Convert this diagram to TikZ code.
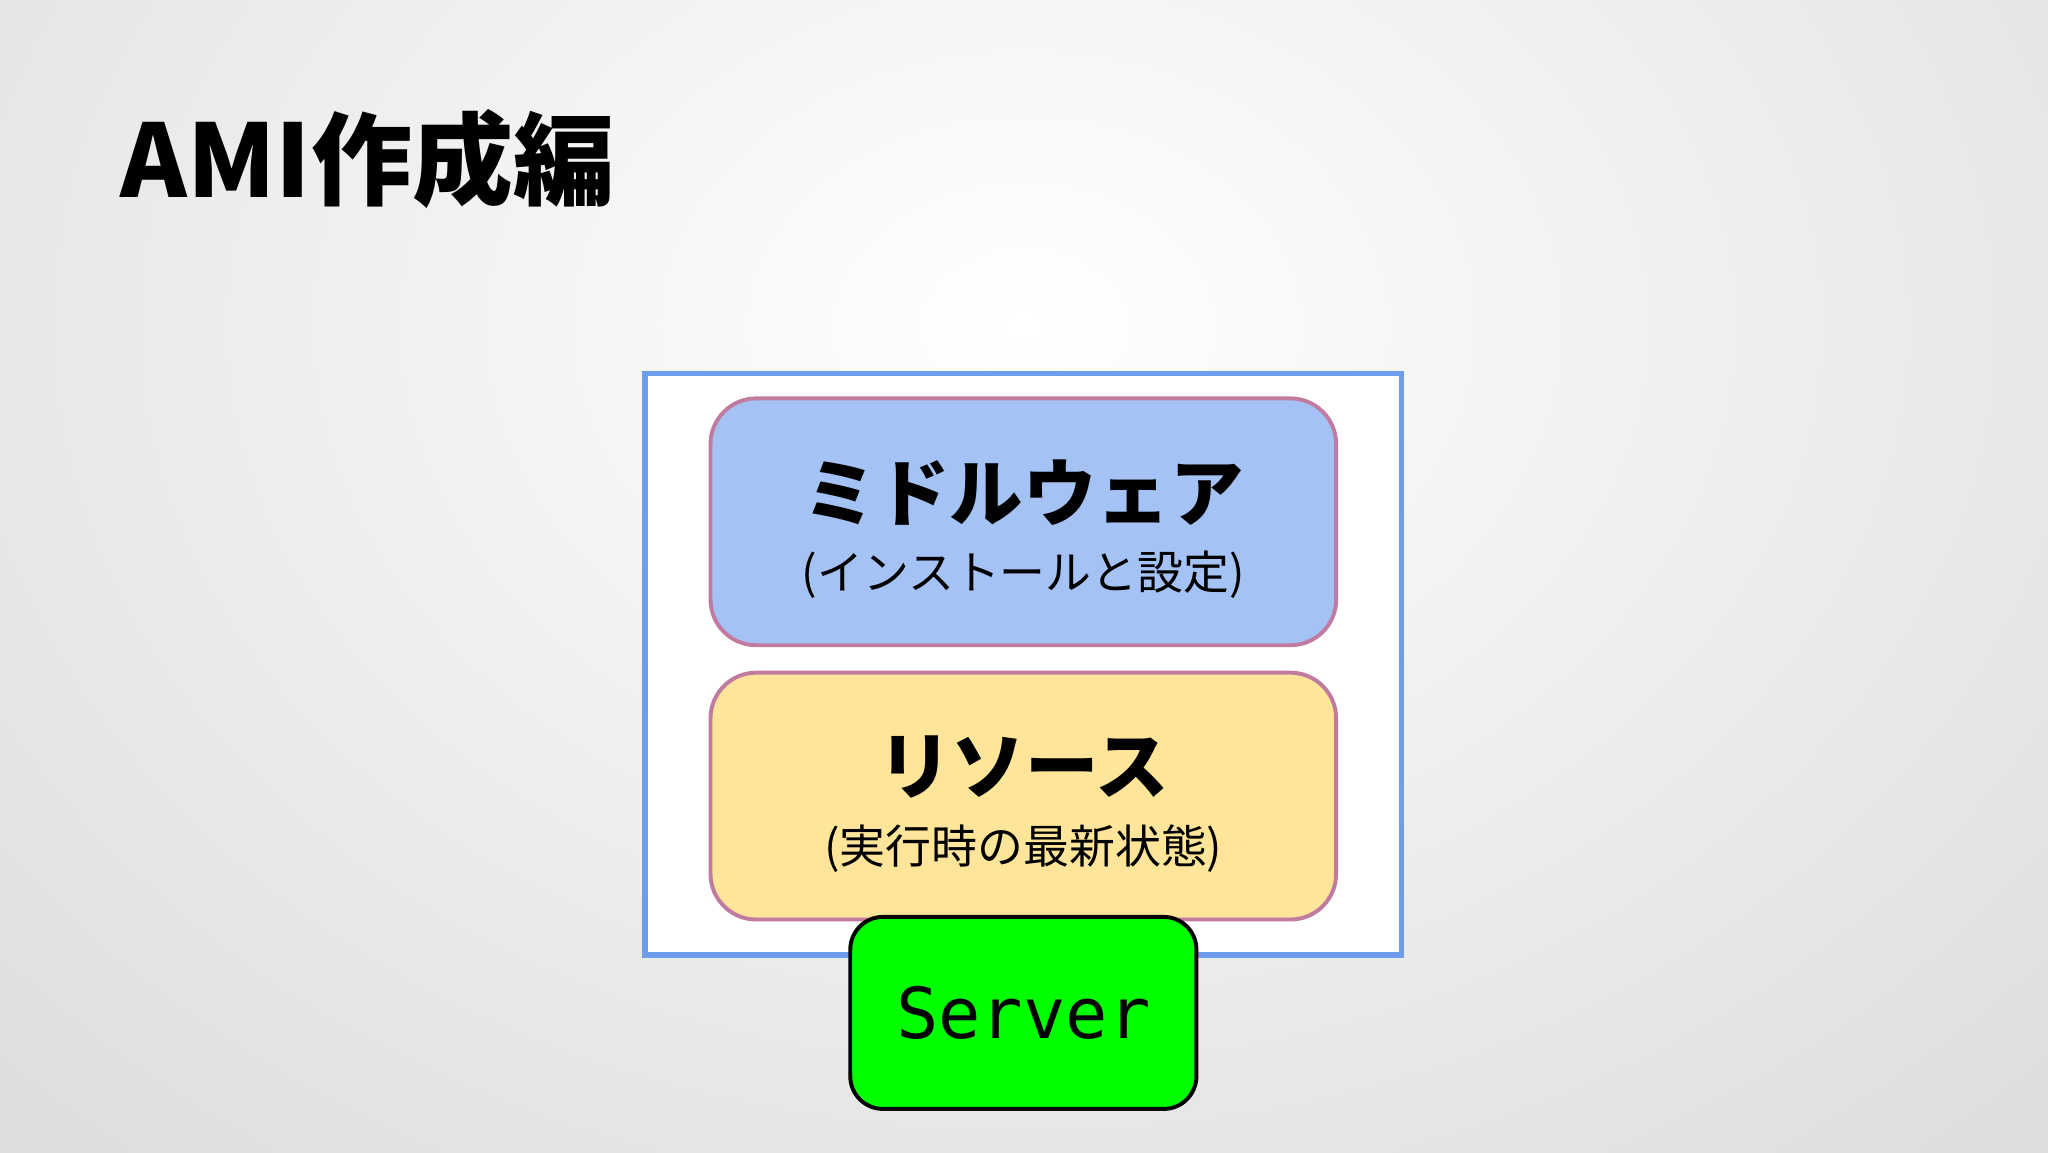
\documentclass[tikz,border=0pt]{standalone}
\usepackage{fontspec}
\setmainfont{Noto Sans CJK JP}
\newfontfamily\srvfont{DejaVu Sans Mono}
\definecolor{outerblue}{HTML}{6D9EEB}
\definecolor{midfill}{HTML}{A4C2F4}
\definecolor{resfill}{HTML}{FFE599}
\definecolor{pinkline}{HTML}{C27BA0}
\definecolor{srvgreen}{HTML}{00FF00}
\tikzset{
  layerbox/.style={draw=pinkline, line width=0.09cm, rounded corners=1.05cm},
  bigjp/.style={font=\fontsize{48}{56}\selectfont\bfseries},
  smalljp/.style={font=\fontsize{30}{36}\selectfont},
}
\begin{document}
\begin{tikzpicture}[x=0.03cm,y=-0.03cm]
\useasboundingbox (0,0) rectangle (1568,882);
\clip (0,0) rectangle (1568,882);
\shade[inner color=white, outer color=black!14, shading=radial] (-400,-650) rectangle (1968,1150);
\node[anchor=west, font=\fontsize{66}{70}\selectfont\bfseries, inner sep=0] (title) at (92,122) {AMI作成編};
\draw[draw=outerblue, fill=white, line width=0.13cm] (494,286) rectangle (1073,731);
\node[layerbox, fill=midfill, minimum width=14.37cm, minimum height=5.67cm] (mid) at (783.5,399.5) {};
\node[bigjp] (midt) at (783.5,377) {ミドルウェア};
\node[smalljp] (mids) at (783.5,440) {(インストールと設定)};
\node[layerbox, fill=resfill, minimum width=14.37cm, minimum height=5.67cm] (res) at (783.5,609.5) {};
\node[bigjp] (rest) at (783.5,587) {リソース};
\node[smalljp] (ress) at (783.5,650) {(実行時の最新状態)};
\node[draw=black, fill=srvgreen, line width=0.09cm, rounded corners=0.75cm, minimum width=7.95cm, minimum height=4.41cm, font=\fontsize{46}{50}\selectfont\srvfont] (srv) at (783.5,775.5) {Server};
\end{tikzpicture}
\end{document}
